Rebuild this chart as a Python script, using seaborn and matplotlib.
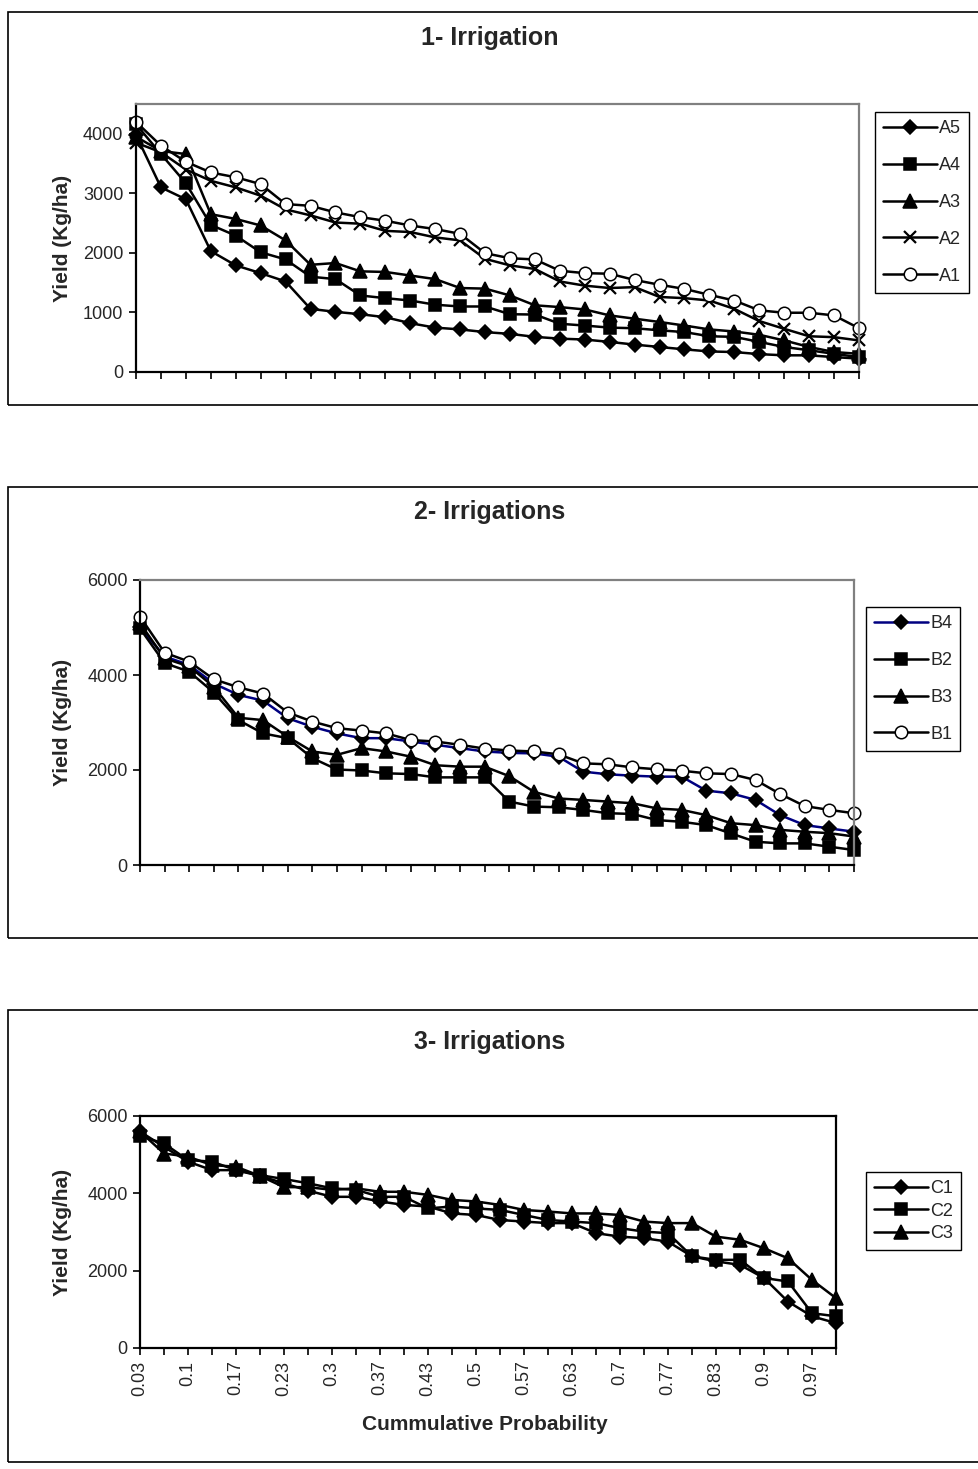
import matplotlib
matplotlib.use("Agg")
import matplotlib.pyplot as plt
from matplotlib.patches import Rectangle
import pandas as pd
import seaborn as sns

# --- data ---
prob_labels = ["0.03", "0.07", "0.1", "0.13", "0.17", "0.2", "0.23", "0.27", "0.3", "0.33",
               "0.37", "0.4", "0.43", "0.47", "0.5", "0.53", "0.57", "0.6", "0.63", "0.67",
               "0.7", "0.73", "0.77", "0.8", "0.83", "0.87", "0.9", "0.93", "0.97", "1"]

# 1 irrigation
a5 = [3980, 3100, 2900, 2030, 1790, 1660, 1520, 1060, 1010, 970, 920, 820, 745, 715, 670,
      640, 590, 560, 545, 505, 460, 420, 380, 345, 335, 300, 280, 280, 250, 225]
a4 = [4160, 3660, 3170, 2470, 2290, 2010, 1890, 1600, 1560, 1285, 1240, 1200, 1130, 1100, 1100,
      970, 965, 810, 780, 745, 735, 700, 670, 600, 590, 505, 420, 365, 305, 250]
a3 = [3950, 3710, 3660, 2650, 2570, 2460, 2210, 1800, 1830, 1690, 1680, 1620, 1560, 1410, 1400,
      1285, 1120, 1090, 1050, 950, 895, 840, 780, 715, 680, 625, 530, 420, 335, 305]
a2 = [3850, 3690, 3400, 3210, 3100, 2960, 2730, 2630, 2510, 2490, 2370, 2350, 2260, 2210, 1900,
      1790, 1730, 1520, 1450, 1410, 1425, 1260, 1240, 1200, 1060, 855, 725, 600, 585, 530]
a1 = [4200, 3800, 3530, 3350, 3270, 3155, 2820, 2790, 2680, 2600, 2540, 2460, 2400, 2320, 1995,
      1910, 1890, 1700, 1660, 1650, 1545, 1465, 1395, 1295, 1200, 1035, 995, 995, 950, 735]

# 2 irrigations
b4 = [5000, 4390, 4210, 3820, 3580, 3460, 3090, 2910, 2770, 2670, 2670, 2600, 2530, 2460, 2390,
      2360, 2350, 2280, 1965, 1910, 1880, 1860, 1860, 1565, 1510, 1370, 1050, 840, 770, 700]
b2 = [4980, 4250, 4070, 3630, 3050, 2770, 2670, 2250, 2010, 1990, 1930, 1915, 1845, 1845, 1845,
      1335, 1230, 1215, 1160, 1090, 1075, 945, 910, 840, 665, 490, 455, 455, 385, 315]
b3 = [5090, 4350, 4180, 3750, 3100, 3050, 2700, 2390, 2320, 2460, 2390, 2280, 2100, 2070, 2070,
      1870, 1540, 1400, 1370, 1335, 1300, 1190, 1160, 1050, 880, 840, 740, 700, 670, 600]
b1 = [5230, 4470, 4280, 3910, 3740, 3610, 3210, 3020, 2880, 2830, 2770, 2630, 2600, 2530, 2450,
      2410, 2390, 2330, 2140, 2120, 2055, 2015, 1985, 1930, 1915, 1790, 1495, 1240, 1160, 1090]

# 3 irrigations
c1 = [5600, 5200, 4820, 4600, 4600, 4450, 4260, 4070, 3910, 3910, 3790, 3700, 3660, 3480, 3440,
      3310, 3270, 3230, 3230, 2970, 2880, 2840, 2750, 2370, 2240, 2150, 1810, 1200, 820, 645]
c2 = [5480, 5290, 4860, 4820, 4600, 4470, 4370, 4260, 4130, 4090, 3910, 3910, 3610, 3660, 3610,
      3570, 3440, 3310, 3270, 3230, 3100, 3010, 2970, 2370, 2280, 2280, 1810, 1720, 900, 820]
c3 = [5600, 5030, 4950, 4730, 4690, 4450, 4160, 4160, 4090, 4130, 4040, 4040, 3960, 3830, 3790,
      3700, 3570, 3530, 3480, 3480, 3440, 3270, 3230, 3230, 2880, 2800, 2580, 2320, 1760, 1290]

W, H = 979, 1469


def fx(x):
    return x / W


def fy(y):
    return 1 - y / H


def axes_rect(left, top, right, bottom):
    return [fx(left), fy(bottom), (right - left) / W, (bottom - top) / H]


sns.set_theme(style="ticks")
plt.rcParams["font.family"] = ["Liberation Sans", "DejaVu Sans"]

fig = plt.figure(figsize=(W / 100, H / 100), dpi=100)

# marker styles for each series: (marker, size, face colour, line colour)
styles = {
    "A5": ("D", 7.5, "black", "black"),
    "A4": ("s", 9, "black", "black"),
    "A3": ("^", 9.5, "black", "black"),
    "A2": ("x", 8.5, "black", "black"),
    "A1": ("o", 9, "white", "black"),
    "B4": ("D", 7.5, "black", "#000080"),
    "B2": ("s", 9, "black", "black"),
    "B3": ("^", 9.5, "black", "black"),
    "B1": ("o", 9, "white", "black"),
    "C1": ("D", 7.5, "black", "black"),
    "C2": ("s", 9, "black", "black"),
    "C3": ("^", 9.5, "black", "black"),
}

panels = [
    {"title": "1- Irrigation", "series": {"A5": a5, "A4": a4, "A3": a3, "A2": a2, "A1": a1},
     "ax": (136, 104, 859, 372), "ylim": 4500, "yticks": [0, 1000, 2000, 3000, 4000],
     "frame": (8, 12, 990, 405), "title_y": 38, "legend": (875, 112), "spacing": 1.1,
     "spine": "#808080", "xlabels": False},
    {"title": "2- Irrigations", "series": {"B4": b4, "B2": b2, "B3": b3, "B1": b1},
     "ax": (140, 580, 854, 865), "ylim": 6000, "yticks": [0, 2000, 4000, 6000],
     "frame": (8, 487, 990, 938), "title_y": 512, "legend": (866, 607), "spacing": 1.1,
     "spine": "#808080", "xlabels": False},
    {"title": "3- Irrigations", "series": {"C1": c1, "C2": c2, "C3": c3},
     "ax": (140, 1116, 836, 1348), "ylim": 6000, "yticks": [0, 2000, 4000, 6000],
     "frame": (8, 1010, 990, 1462), "title_y": 1042, "legend": (866, 1172), "spacing": 0.3,
     "spine": "black", "xlabels": True},
]

idx = list(range(len(prob_labels)))

for p in panels:
    left, top, right, bottom = p["ax"]
    ax = fig.add_axes(axes_rect(left, top, right, bottom))

    for name, vals in p["series"].items():
        marker, ms, face, lc = styles[name]
        df = pd.DataFrame({"idx": idx, "yield": vals})
        sns.lineplot(data=df, x="idx", y="yield", ax=ax, color=lc, linewidth=1.8,
                     marker=marker, markersize=ms, markerfacecolor=face,
                     markeredgecolor="black", markeredgewidth=1.6 if marker == "x" else 1.1,
                     label=name, clip_on=False)

    ax.set_xlim(0, len(prob_labels) - 1)
    ax.set_ylim(0, p["ylim"])
    ax.set_yticks(p["yticks"])
    ax.set_xticks(idx)
    if p["xlabels"]:
        ax.set_xticklabels([lab if i % 2 == 0 else "" for i, lab in enumerate(prob_labels)],
                           rotation=90, fontsize=12.5)
    else:
        ax.set_xticklabels([])
    ax.tick_params(axis="both", direction="out", length=5, width=1.2, color="black",
                   labelsize=13, pad=4)
    ax.set_xlabel("")
    ax.set_ylabel("")
    for s in ["left", "bottom"]:
        ax.spines[s].set_color("black")
        ax.spines[s].set_linewidth(1.6)
    for s in ["top", "right"]:
        ax.spines[s].set_visible(True)
        ax.spines[s].set_color(p["spine"])
        ax.spines[s].set_linewidth(1.6)

    # y label and title
    fig.text(fx(62), fy((top + bottom) / 2), "Yield (Kg/ha)", rotation=90, ha="center",
             va="center", fontsize=15, fontweight="bold")
    fig.text(fx(490), fy(p["title_y"]), p["title"], ha="center", va="center",
             fontsize=18, fontweight="bold")

    # legend box on the right
    lx, ly = p["legend"]
    ax.legend(loc="upper left", bbox_to_anchor=(fx(lx), fy(ly)), bbox_transform=fig.transFigure,
              frameon=True, fancybox=False, edgecolor="black", framealpha=1, fontsize=13,
              handlelength=3.0, handletextpad=0.1, labelspacing=p["spacing"],
              borderpad=0.45, borderaxespad=0)

    # outer chart frame
    fl, ft, fr, fb = p["frame"]
    fig.add_artist(Rectangle((fx(fl), fy(fb)), (fr - fl) / W, (fb - ft) / H,
                             transform=fig.transFigure, fill=False, edgecolor="black",
                             linewidth=1.2))

fig.text(fx(485), fy(1424), "Cummulative Probability", ha="center", va="center",
         fontsize=15, fontweight="bold")

fig.savefig("out.png", dpi=100)
